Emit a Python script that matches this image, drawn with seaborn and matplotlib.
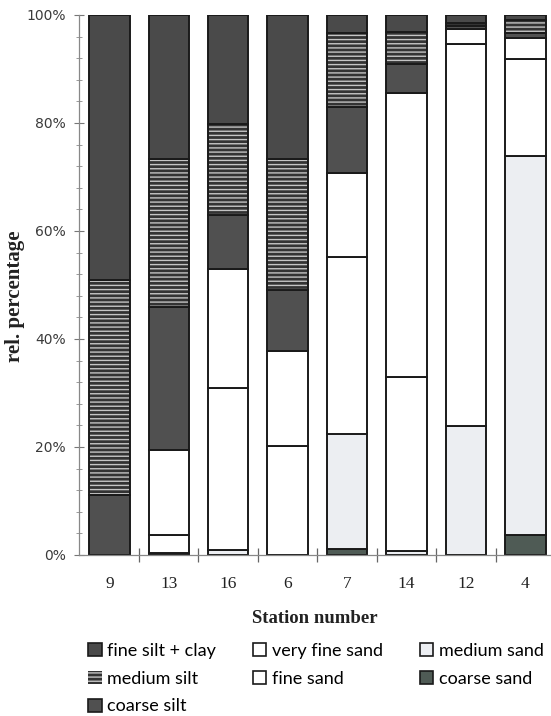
import numpy as np
import pandas as pd
import matplotlib
matplotlib.use("Agg")
import matplotlib.pyplot as plt
from matplotlib.patches import Patch
from matplotlib.ticker import MultipleLocator, FixedLocator
import seaborn as sns

# Stations in plotting order
stations = ["9", "13", "16", "6", "7", "14", "12", "4"]

# Grain-size fractions (% of sample), listed from the bottom of each stack upwards
coarse_sand = [0.0, 0.0, 0.0, 0.0, 1.1, 0.0, 0.0, 3.7]
medium_sand = [0.0, 0.4, 0.9, 0.0, 21.4, 0.8, 23.9, 70.2]
fine_sand = [0.0, 3.3, 30.0, 20.2, 32.7, 32.2, 70.7, 17.9]
very_fine_sand = [0.0, 15.7, 22.1, 17.6, 15.6, 52.6, 2.8, 3.9]
coarse_silt = [11.2, 26.6, 10.0, 11.2, 12.2, 5.3, 0.6, 0.9]
medium_silt = [39.8, 27.3, 16.8, 24.3, 13.6, 6.0, 0.5, 2.5]
fine_silt_clay = [49.0, 26.7, 20.2, 26.7, 3.4, 3.1, 1.5, 0.9]

fractions = [
    ("coarse sand", coarse_sand),
    ("medium sand", medium_sand),
    ("fine sand", fine_sand),
    ("very fine sand", very_fine_sand),
    ("coarse silt", coarse_silt),
    ("medium silt", medium_silt),
    ("fine silt + clay", fine_silt_clay),
]

# fill colour, hatch pattern, hatch colour
styles = {
    "coarse sand": ("#4f5b55", None, None),
    "medium sand": ("#eceef2", None, None),
    "fine sand": ("#ffffff", None, None),
    "very fine sand": ("#ffffff", None, None),
    "coarse silt": ("#505050", None, None),
    "medium silt": ("#333333", "----", "#c4c4c4"),
    "fine silt + clay": ("#4a4a4a", None, None),
}

plt.rcParams["hatch.linewidth"] = 1.0

fig = plt.figure(figsize=(5.51, 7.16), dpi=100)
ax = fig.add_axes([79 / 551, 161 / 716, 472 / 551, 540 / 716])

df = pd.DataFrame({"station": stations})
bottom = np.zeros(len(stations))
bar_w = 0.68
for name, vals in fractions:
    df["value"] = vals
    face, hatch, hcol = styles[name]
    if hatch:
        sns.barplot(data=df, x="station", y="value", order=stations, ax=ax,
                    color=face, width=bar_w, bottom=bottom, hatch=hatch,
                    edgecolor=hcol, linewidth=0, errorbar=None, saturation=1)
        sns.barplot(data=df, x="station", y="value", order=stations, ax=ax,
                    color=face, width=bar_w, bottom=bottom, facecolor="none",
                    edgecolor="#1a1a1a", linewidth=1.4, errorbar=None,
                    saturation=1)
    else:
        sns.barplot(data=df, x="station", y="value", order=stations, ax=ax,
                    color=face, width=bar_w, bottom=bottom,
                    edgecolor="#1a1a1a", linewidth=1.4, errorbar=None,
                    saturation=1)
    bottom = bottom + np.array(vals)

ax.set_xlim(-0.51, 7.43)
ax.set_ylim(0, 100)

for side in ["top", "right"]:
    ax.spines[side].set_visible(False)
for side in ["left", "bottom"]:
    ax.spines[side].set_color("#888888")
    ax.spines[side].set_linewidth(0.9)

# y axis: labelled every 20 %, minor ticks every 4 %
ax.yaxis.set_minor_locator(MultipleLocator(4))
ax.set_yticks(np.arange(0, 101, 20))
ax.set_yticklabels([f"{int(v)}%" for v in np.arange(0, 101, 20)])
ax.tick_params(axis="y", which="major", direction="inout", length=7,
               width=0.8, color="#777777", labelsize=10, pad=6)
ax.tick_params(axis="y", which="minor", direction="inout", length=5,
               width=0.7, color="#999999")
for lab in ax.get_yticklabels():
    lab.set_fontfamily("DejaVu Sans")
    lab.set_color("#3a3a3a")

# x axis: labels at bar centres, tick marks at category boundaries
ax.xaxis.set_minor_locator(FixedLocator(np.arange(0.5, len(stations) - 0.5, 1)))
ax.tick_params(axis="x", which="major", length=0, labelsize=12.5, pad=15)
ax.tick_params(axis="x", which="minor", direction="inout", length=10,
               width=0.9, color="#666666")
for lab in ax.get_xticklabels():
    lab.set_fontfamily("Liberation Serif")
    lab.set_color("#222222")

ax.set_xlabel("Station number", fontfamily="Liberation Serif",
              fontweight="bold", fontsize=13.5, labelpad=13, color="#222222")
ax.set_ylabel("rel. percentage", fontfamily="Liberation Serif",
              fontweight="bold", fontsize=15, color="#222222")
ax.yaxis.set_label_coords(-0.114, 0.48)

# legend, listed from the top of the stack downwards
handles = []
for name, _ in reversed(fractions):
    face, hatch, hcol = styles[name]
    if hatch:
        h = Patch(facecolor=face, hatch=hatch, edgecolor=hcol, linewidth=0,
                  label=name)
    else:
        h = Patch(facecolor=face, edgecolor="#1a1a1a", linewidth=1.2,
                  label=name)
    handles.append(h)

fig.legend(handles=handles, loc="upper left",
           bbox_to_anchor=(88 / 551, 1 - 643 / 716), ncol=3, frameon=False,
           borderpad=0, borderaxespad=0,
           handlelength=0.75, handleheight=0.75, handletextpad=0.3,
           columnspacing=2.05, labelspacing=0.65,
           prop={"family": "Lato", "size": 13})

fig.savefig("out.png", dpi=100)
